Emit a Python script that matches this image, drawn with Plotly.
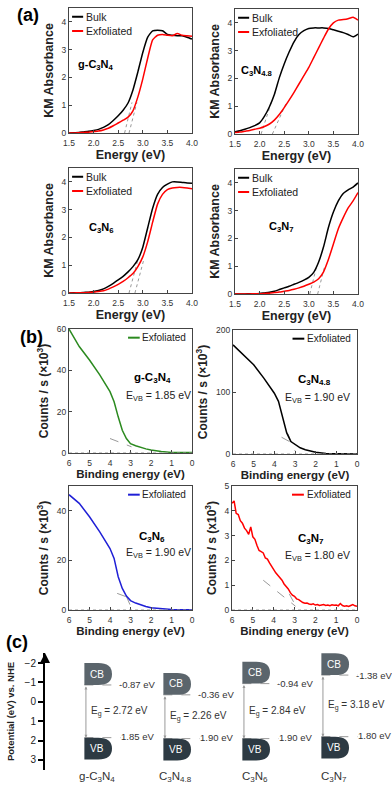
import plotly.graph_objects as go

W, H = 392, 787
FONT = "Liberation Sans, Arial, sans-serif"

# ---------------- (a) KM absorbance spectra ----------------
energy = [1.5, 1.6, 1.7, 1.8, 1.9, 2.0, 2.1, 2.2, 2.3, 2.4, 2.5, 2.6, 2.7,
          2.8, 2.9, 3.0, 3.1, 3.2, 3.3, 3.4, 3.5, 3.6, 3.7, 3.8, 3.9, 4.0]

gcn_bulk = [0.0, 0.01, 0.02, 0.04, 0.06, 0.09, 0.13, 0.2, 0.3, 0.45, 0.62, 0.82, 1.08,
            1.55, 2.2, 2.9, 3.45, 3.68, 3.7, 3.68, 3.55, 3.52, 3.5, 3.5, 3.45, 3.38]
gcn_exf = [0.0, 0.0, 0.01, 0.02, 0.03, 0.05, 0.07, 0.11, 0.17, 0.26, 0.36, 0.46, 0.57,
           0.8, 1.3, 1.95, 2.7, 3.35, 3.52, 3.55, 3.52, 3.5, 3.58, 3.52, 3.5, 3.48]

c3n48_bulk = [0.08, 0.12, 0.17, 0.23, 0.3, 0.4, 0.64, 0.98, 1.42, 2.02, 2.52, 2.95, 3.32,
              3.58, 3.72, 3.8, 3.82, 3.82, 3.82, 3.8, 3.75, 3.7, 3.65, 3.58, 3.5, 3.6]
c3n48_exf = [0.05, 0.07, 0.1, 0.13, 0.17, 0.21, 0.27, 0.36, 0.5, 0.7, 0.95, 1.22, 1.5,
             1.8, 2.1, 2.4, 2.75, 3.1, 3.45, 3.78, 4.0, 4.1, 4.12, 4.15, 4.2, 4.1]

c3n6_bulk = [0.0, 0.01, 0.01, 0.02, 0.03, 0.05, 0.09, 0.15, 0.24, 0.35, 0.47, 0.6, 0.76,
             0.95, 1.2, 1.65, 2.35, 3.05, 3.55, 3.8, 3.92, 4.0, 4.0, 3.98, 3.96, 3.95]
c3n6_exf = [0.0, 0.0, 0.01, 0.01, 0.02, 0.03, 0.05, 0.08, 0.14, 0.22, 0.31, 0.42, 0.55,
            0.7, 0.95, 1.3, 1.85, 2.55, 3.2, 3.55, 3.72, 3.78, 3.8, 3.8, 3.78, 3.75]

c3n7_bulk = [0.0, 0.0, 0.0, 0.01, 0.01, 0.02, 0.04, 0.06, 0.1, 0.16, 0.22, 0.28, 0.35,
             0.42, 0.5, 0.6, 0.78, 1.15, 1.7, 2.4, 2.95, 3.35, 3.62, 3.75, 3.85, 4.0]
c3n7_exf = [0.0, 0.0, 0.0, 0.0, 0.01, 0.01, 0.02, 0.03, 0.05, 0.07, 0.1, 0.13, 0.17,
            0.22, 0.28, 0.35, 0.43, 0.55, 0.8, 1.25, 1.8, 2.35, 2.75, 3.1, 3.35, 3.65]

# band-edge extrapolation lines (x0, x1, y0, y1)
gcn_tan = [(2.63, 2.78, 0, 1.1), (2.72, 2.88, 0, 1.1)]
c3n48_tan = [(2.03, 2.25, 0, 1.2), (2.26, 2.55, 0, 1.15)]
c3n6_tan = [(2.72, 2.9, 0, 1.2), (2.84, 3.02, 0, 1.2)]
c3n7_tan = [(3.02, 3.16, 0, 1.0), (3.18, 3.33, 0, 1.05)]

# ---------------- (b) XPS valence band ----------------
be = [6.0, 5.5, 5.0, 4.5, 4.0, 3.8, 3.6, 3.4, 3.2, 3.0, 2.75, 2.5, 2.25, 2.0, 1.5, 1.0, 0.5, 0.0]
vb_gcn = [60, 51.5, 45, 37.8, 29.7, 24.8, 17.5, 11, 7, 4.5, 3.5, 2.7, 2.0, 1.5, 0.7, 0.3, 0.2, 0.2]
vb_c3n48 = [176, 160, 144, 122, 98, 85, 60, 34, 20, 15, 10, 7, 5, 3, 1, 0.3, 0.1, 0]
vb_c3n6 = [46.5, 43, 37.6, 31.5, 24.8, 20.8, 13.4, 8.7, 5.6, 3.8, 2.8, 2.0, 1.4, 0.9, 0.4, 0.2, 0.1, 0.1]

be_c3n7 = [round(6 - 0.1 * i, 1) for i in range(61)]
vb_c3n7 = [4.3, 4.4, 3.9, 3.85, 3.6, 3.5, 3.3, 3.2, 3.05, 3.35, 2.95, 2.85, 2.6, 2.4, 2.35,
           2.3, 2.1, 2.05, 1.9, 1.75, 1.65, 1.5, 1.4, 1.3, 1.2, 1.05, 0.95, 0.85, 0.7, 0.6,
           0.55, 0.45, 0.42, 0.35, 0.3, 0.27, 0.28, 0.24, 0.22, 0.25, 0.2, 0.22, 0.18, 0.2,
           0.22, 0.18, 0.2, 0.17, 0.21, 0.19, 0.2, 0.17, 0.26, 0.18, 0.15, 0.17, 0.14, 0.18,
           0.22, 0.17, 0.15]

vb_gcn_tan = [(4.0, 2.95, 7.0, 3.0)]
vb_c3n48_tan = [(3.65, 3.15, 27, 18), (3.35, 3.0, 33, 5)]
vb_c3n6_tan = [(3.65, 3.0, 6.7, 4.7), (3.2, 2.93, 5.5, 0.3)]
vb_c3n7_tan = [(4.5, 2.95, 1.2, 0.15), (3.25, 2.9, 0.65, 0.1)]

# ---------------- (c) band structure ----------------
materials = ["g-C<sub>3</sub>N<sub>4</sub>", "C<sub>3</sub>N<sub>4.8</sub>",
             "C<sub>3</sub>N<sub>6</sub>", "C<sub>3</sub>N<sub>7</sub>"]
cb_edge = [-0.87, -0.36, -0.94, -1.38]
vb_edge = [1.85, 1.90, 1.90, 1.80]
band_gap = [2.72, 2.26, 2.84, 3.18]


def dom_x(l, r):
    return [l / W, r / W]


def dom_y(t, b):
    return [1 - b / H, 1 - t / H]


def ref(k):
    return ("x" if k == 1 else f"x{k}"), ("y" if k == 1 else f"y{k}")


def note(text, x, y, xref, yref, size, color="#222", xanchor="center", **kw):
    return dict(text=text, x=x, y=y, xref=xref, yref=yref, xanchor=xanchor, yanchor="middle",
                showarrow=False, font=dict(size=size, color=color), **kw)


axis_base = dict(showline=True, mirror=True, linecolor="#444", linewidth=1, automargin=False,
                 ticks="inside", ticklen=3, tickcolor="#444",
                 tickfont=dict(size=8.5, color="#333", family=FONT),
                 showgrid=False, zeroline=False)

fig = go.Figure()
layout_axes = {}
annotations = []
shapes = []

# ---- panel (a) ----
a_panels = [
    (1, gcn_bulk, gcn_exf, gcn_tan, "g-C<sub>3</sub>N<sub>4</sub>", (69, 192, 8, 133), (0.22, 0.544)),
    (2, c3n48_bulk, c3n48_exf, c3n48_tan, "C<sub>3</sub>N<sub>4.8</sub>", (235, 358, 9, 134), (0.18, 0.5)),
    (3, c3n6_bulk, c3n6_exf, c3n6_tan, "C<sub>3</sub>N<sub>6</sub>", (69, 192, 168, 293), (0.26, 0.52)),
    (4, c3n7_bulk, c3n7_exf, c3n7_tan, "C<sub>3</sub>N<sub>7</sub>", (235, 358, 169, 294), (0.374, 0.536)),
]
for k, bulk, exf, tans, name, (l, r, t, b), (tx, ty) in a_panels:
    xr, yr = ref(k)
    for x0, x1, y0, y1 in tans:
        fig.add_trace(go.Scatter(x=[x0, x1], y=[y0, y1], mode="lines", xaxis=xr, yaxis=yr,
                                 line=dict(color="#999", width=1, dash="dot")))
    fig.add_trace(go.Scatter(x=energy, y=bulk, mode="lines", xaxis=xr, yaxis=yr,
                             line=dict(color="black", width=1.5, shape="spline", smoothing=0.5)))
    fig.add_trace(go.Scatter(x=energy, y=exf, mode="lines", xaxis=xr, yaxis=yr,
                             line=dict(color="#ff0000", width=1.5, shape="spline", smoothing=0.5)))
    xk = "xaxis" if k == 1 else f"xaxis{k}"
    yk = "yaxis" if k == 1 else f"yaxis{k}"
    layout_axes[xk] = dict(axis_base, domain=dom_x(l, r), anchor=yr, range=[1.5, 4.0],
                           tickvals=[1.5, 2.0, 2.5, 3.0, 3.5, 4.0], tickformat=".1f", ticklabelstandoff=2,
                           title=dict(text="<b>Energy (eV)</b>", font=dict(size=12.5, color="#222"), standoff=2))
    layout_axes[yk] = dict(axis_base, domain=dom_y(t, b), anchor=xr, range=[0, 4.5],
                           tickvals=[0, 1, 2, 3, 4],
                           title=dict(text="<b>KM Absorbance</b>", font=dict(size=12.5, color="#222"), standoff=5))
    annotations.append(note(f"<b>{name}</b>", tx, ty, f"{xr} domain", f"{yr} domain", 11, "black"))
    # legend
    for lab, col, ly in [("Bulk", "black", 0.93), ("Exfoliated", "#ff0000", 0.816)]:
        shapes.append(dict(type="line", xref=f"{xr} domain", yref=f"{yr} domain",
                           x0=0.025, x1=0.115, y0=ly, y1=ly, line=dict(color=col, width=2)))
        annotations.append(note(lab, 0.12, ly, f"{xr} domain", f"{yr} domain", 10.5, xanchor="left"))

# ---- panel (b) ----
b_panels = [
    (5, be, vb_gcn, vb_gcn_tan, "#2b8a1f", "g-C<sub>3</sub>N<sub>4</sub>", "1.85", (69, 192, 329, 453),
     [0, 60], 20, "×", (0.675, 0.605, 0.724, 0.46)),
    (6, be, vb_c3n48, vb_c3n48_tan, "black", "C<sub>3</sub>N<sub>4.8</sub>", "1.90", (233, 357, 330, 454),
     [0, 200], 100, "×", (0.66, 0.6, 0.685, 0.45)),
    (7, be, vb_c3n6, vb_c3n6_tan, "#1f1fd6", "C<sub>3</sub>N<sub>6</sub>", "1.90", (69, 192, 486, 610),
     [0, 50], 20, "×", (0.675, 0.59, 0.724, 0.46)),
    (8, be_c3n7, vb_c3n7, vb_c3n7_tan, "#ff0000", "C<sub>3</sub>N<sub>7</sub>", "1.80", (232, 357, 486, 610),
     [0, 5], 1, "x", (0.63, 0.57, 0.68, 0.435)),
]
for k, xs, ys, tans, col, name, evb, (l, r, t, b), yrange, dt, mult, (nx, ny, ex, ey) in b_panels:
    xr, yr = ref(k)
    shapes.append(dict(type="line", xref=f"{xr} domain", yref=yr, x0=0, x1=1, y0=0, y1=0,
                       line=dict(color="#999", width=1, dash="dot")))
    for x0, x1, y0, y1 in tans:
        fig.add_trace(go.Scatter(x=[x0, x1], y=[y0, y1], mode="lines", xaxis=xr, yaxis=yr,
                                 line=dict(color="#999", width=1, dash="dash")))
    fig.add_trace(go.Scatter(x=xs, y=ys, mode="lines", xaxis=xr, yaxis=yr,
                             line=dict(color=col, width=1.5)))
    xk = f"xaxis{k}"
    yk = f"yaxis{k}"
    layout_axes[xk] = dict(axis_base, domain=dom_x(l, r), anchor=yr, range=[6, 0],
                           tickvals=[6, 5, 4, 3, 2, 1, 0], ticklabelstandoff=2,
                           title=dict(text="<b>Binding energy (eV)</b>", font=dict(size=11.5, color="#222"),
                                      standoff=2))
    layout_axes[yk] = dict(axis_base, domain=dom_y(t, b), anchor=xr, range=yrange, dtick=dt,
                           title=dict(text=f"<b>Counts / s ({mult}10<sup>3</sup>)</b>",
                                      font=dict(size=12, color="#222"), standoff=5))
    shapes.append(dict(type="line", xref=f"{xr} domain", yref=f"{yr} domain",
                       x0=0.48, x1=0.575, y0=0.93, y1=0.93, line=dict(color=col, width=2)))
    annotations.append(note("Exfoliated", 0.58, 0.93, f"{xr} domain", f"{yr} domain", 10, xanchor="left"))
    annotations.append(note(f"<b>{name}</b>", nx, ny, f"{xr} domain", f"{yr} domain", 11.5, "black"))
    annotations.append(note(f"E<sub>VB</sub> = {evb} eV", ex, ey, f"{xr} domain", f"{yr} domain", 10.5))

# ---- panel (c) ----
BOX_L, BOX_R, BOX_H = -0.16, 0.19, 1.13
layout_axes["xaxis9"] = dict(domain=dom_x(45, 392), anchor="y9", range=[-0.658, 3.734], visible=False,
                             automargin=False)
layout_axes["yaxis9"] = dict(domain=dom_y(653, 770), anchor="x9", range=[3.52, -2.52], automargin=False,
                             tickvals=[-2, -1, 0, 1, 2, 3], showline=True, linecolor="black", linewidth=2,
                             ticks="outside", ticklen=5, tickwidth=2, tickcolor="black",
                             showgrid=False, zeroline=False,
                             tickfont=dict(size=10, color="#222", family=FONT),
                             title=dict(text="<b>Potential (eV) vs. NHE</b>", font=dict(size=9.5, color="#222"),
                                        standoff=8))
annotations.append(dict(x=-0.658, y=-2.52, ax=-0.658, ay=-2.1, xref="x9", yref="y9", axref="x9", ayref="y9",
                        text="", showarrow=True, arrowhead=2, arrowsize=1, arrowwidth=2, arrowcolor="black"))

for i, (name, cb, vb, eg) in enumerate(zip(materials, cb_edge, vb_edge, band_gap)):
    xl, xrr = i + BOX_L, i + BOX_R
    xm = xl + 0.5 * (xrr - xl)
    # dashed level lines
    for lvl in (cb, vb):
        shapes.append(dict(type="line", xref="x9", yref="y9", x0=xl, x1=i + 0.3, y0=lvl, y1=lvl,
                           line=dict(color="#999", width=1, dash="dash")))
    # CB / VB rounded boxes
    for yt, yb, fill, lab in [(cb - BOX_H, cb, "#5b656c", "CB"), (vb, vb + BOX_H, "#2d3a43", "VB")]:
        ym = (yt + yb) / 2
        path = (f"M {xl},{yb} L {xl},{yt} L {xm},{yt} Q {xrr},{yt} {xrr},{ym} "
                f"Q {xrr},{yb} {xm},{yb} Z")
        shapes.append(dict(type="path", path=path, xref="x9", yref="y9", fillcolor=fill,
                           line=dict(width=0)))
        annotations.append(note(lab, i, ym, "x9", "y9", 10, "white"))
    # band gap arrow
    annotations.append(dict(x=xl + 0.02, y=vb, ax=xl + 0.02, ay=cb, xref="x9", yref="y9", axref="x9",
                            ayref="y9", text="", showarrow=True, arrowhead=2, arrowside="end+start",
                            arrowsize=0.6, arrowwidth=1, arrowcolor="#999"))
    annotations.append(note(f"{cb:.2f} eV", i + 0.25, cb, "x9", "y9", 9.5, "#333", xanchor="left"))
    annotations.append(note(f"{vb:.2f} eV", i + 0.28, vb, "x9", "y9", 9.5, "#333", xanchor="left", yshift=1))
    annotations.append(note(f"E<sub>g</sub> = {eg:.2f} eV", i + 0.29, (cb + vb) / 2, "x9", "y9", 10, "#333"))
    annotations.append(note(name, i, 1 - 777 / H, "x9", "paper", 11.5, "#333"))

# panel labels
for lab, px, py in [("(a)", 28, 15), ("(b)", 31, 337), ("(c)", 17, 642)]:
    annotations.append(note(f"<b>{lab}</b>", px / W, 1 - py / H, "paper", "paper", 18, "black"))

fig.update_layout(
    width=W, height=H, margin=dict(l=0, r=0, t=0, b=0),
    paper_bgcolor="white", plot_bgcolor="white", showlegend=False,
    font=dict(family=FONT, color="#222"),
    annotations=annotations, shapes=shapes,
    **layout_axes
)

# drop the default 8px page margin so the figure sits at the window origin
fig.write_html("out.html", config={"displayModeBar": False},
               post_script="document.body.style.margin='0';")
